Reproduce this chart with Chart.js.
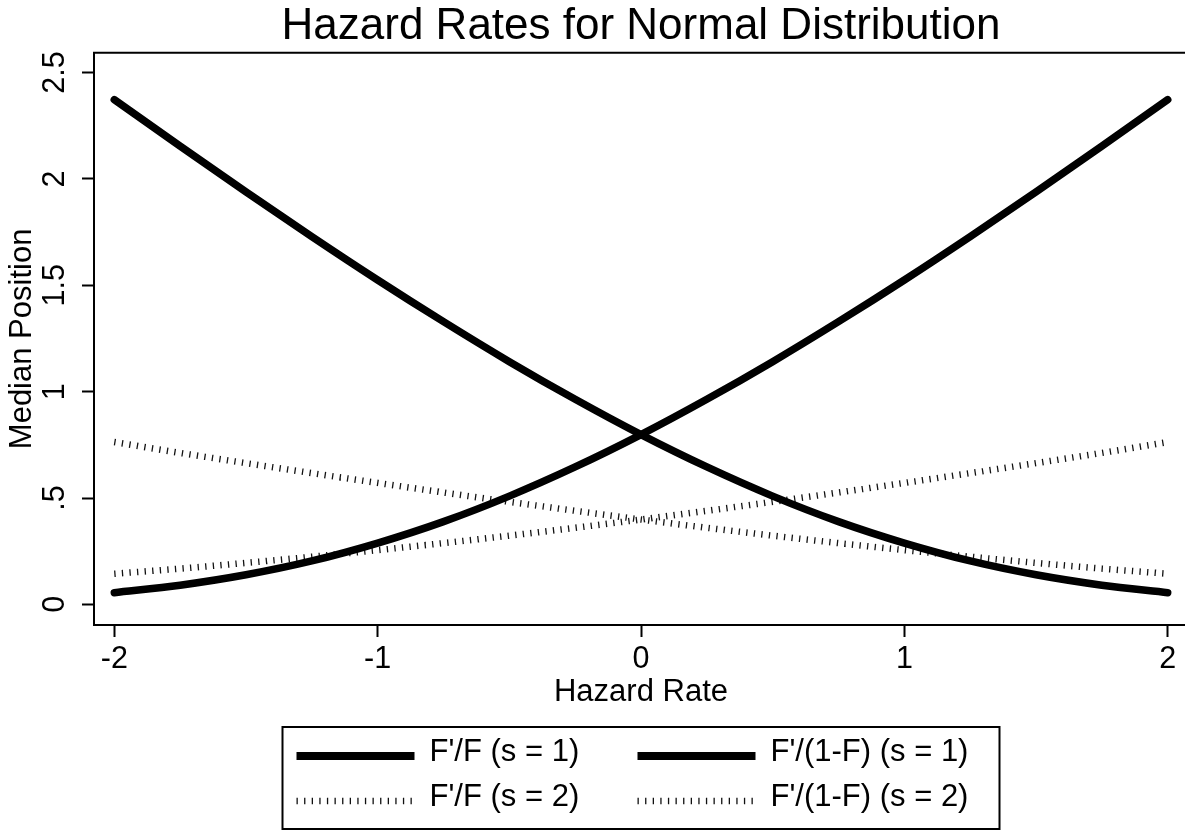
<!DOCTYPE html>
<html>
<head>
<meta charset="utf-8">
<title>Hazard Rates for Normal Distribution</title>
<script src="https://cdn.jsdelivr.net/npm/chart.js@4.4.1/dist/chart.umd.min.js"></script>
<style>
    html, body { margin: 0; padding: 0; background: #fff; overflow: hidden; }
    #wrap { position: relative; width: 1282px; height: 832px; }
</style>
</head>
<body>
<div id="wrap"><canvas id="hazardChart" width="1282" height="832"></canvas></div>
<script>
// values
const hazardRate = [-2, -1.75, -1.5, -1.25, -1, -0.75, -0.5, -0.25, 0, 0.25, 0.5, 0.75, 1, 1.25, 1.5, 1.75, 2];
const ratioS1 = [2.373, 2.154, 1.939, 1.729, 1.525, 1.329, 1.141, 0.964, 0.798, 0.646, 0.509, 0.389, 0.288, 0.204, 0.139, 0.090, 0.055];
const millsS1 = [0.055, 0.090, 0.139, 0.204, 0.288, 0.389, 0.509, 0.646, 0.798, 0.964, 1.141, 1.329, 1.525, 1.729, 1.939, 2.154, 2.373];
const ratioS2 = [0.763, 0.712, 0.664, 0.617, 0.571, 0.526, 0.482, 0.440, 0.399, 0.360, 0.323, 0.288, 0.255, 0.224, 0.195, 0.168, 0.144];
const millsS2 = [0.144, 0.168, 0.195, 0.224, 0.255, 0.288, 0.323, 0.360, 0.399, 0.440, 0.482, 0.526, 0.571, 0.617, 0.664, 0.712, 0.763];

const seriesLabels = ["F'/F (s = 1)", "F'/(1-F) (s = 1)", "F'/F (s = 2)", "F'/(1-F) (s = 2)"];
const xTicks = [-2, -1, 0, 1, 2];
const yTicks = [0, 0.5, 1, 1.5, 2, 2.5];
const yTickLabels = ["0", ".5", "1", "1.5", "2", "2.5"];

const FONT = '"Liberation Sans", Arial, Helvetica, sans-serif';
Chart.defaults.font.family = FONT;
Chart.defaults.color = "#000";

function points(values) {
    return hazardRate.map((x, i) => ({ x: x, y: values[i] }));
}

const solid = { borderColor: "#000", borderWidth: 7.5, borderCapStyle: "round", borderJoinStyle: "round" };
const ticked = { borderColor: "#111", borderWidth: 6.5, borderDash: [1.3, 6.3], borderCapStyle: "butt" };

// top edge of the plot box
const plotFrame = {
    id: "plotFrame",
    afterDraw(chart) {
        const { ctx, chartArea } = chart;
        ctx.save();
        ctx.strokeStyle = "#000";
        ctx.lineWidth = 2;
        ctx.beginPath();
        ctx.moveTo(chartArea.left - 1, chartArea.top);
        ctx.lineTo(chartArea.right, chartArea.top);
        ctx.lineTo(chartArea.right, chartArea.bottom);
        ctx.stroke();
        ctx.restore();
    }
};

// boxed two-column legend under the axis title
const boxedLegend = {
    id: "boxedLegend",
    afterDraw(chart) {
        const { ctx, chartArea } = chart;
        const cx = (chartArea.left + chartArea.right) / 2;
        const left = cx - 358.5;
        const top = chartArea.bottom + 102;
        ctx.save();
        ctx.strokeStyle = "#000";
        ctx.lineWidth = 2;
        ctx.strokeRect(left, top, 717, 102);
        ctx.font = "31px " + FONT;
        ctx.fillStyle = "#000";
        ctx.textBaseline = "middle";
        chart.data.datasets.forEach((ds, i) => {
            const col = i % 2;
            const row = Math.floor(i / 2);
            const x0 = left + (col ? 355 : 14);
            const y = top + (row ? 74 : 29);
            ctx.beginPath();
            ctx.strokeStyle = ds.borderColor;
            ctx.lineWidth = row ? ds.borderWidth : 8;
            ctx.setLineDash(ds.borderDash || []);
            ctx.lineCap = "butt";
            ctx.moveTo(x0, y);
            ctx.lineTo(x0 + 118, y);
            ctx.stroke();
            ctx.setLineDash([]);
            ctx.fillText(ds.label, x0 + 133, y - 4);
        });
        ctx.restore();
    }
};

const chart = new Chart(document.getElementById("hazardChart"), {
    type: "line",
    data: {
        datasets: [
            { label: seriesLabels[0], data: points(ratioS1), ...solid },
            { label: seriesLabels[1], data: points(millsS1), ...solid },
            { label: seriesLabels[2], data: points(ratioS2), ...ticked },
            { label: seriesLabels[3], data: points(millsS2), ...ticked }
        ]
    },
    options: {
        responsive: false,
        animation: false,
        devicePixelRatio: 1,
        layout: { padding: { left: 0, right: 0, top: 0, bottom: 117 } },
        elements: {
            point: { radius: 0, hoverRadius: 0 },
            line: { cubicInterpolationMode: "monotone", fill: false }
        },
        plugins: {
            legend: { display: false },
            tooltip: { enabled: false },
            title: {
                display: true,
                text: "Hazard Rates for Normal Distribution",
                font: { size: 44, weight: "normal", family: FONT },
                color: "#000",
                padding: { top: 0, bottom: 0 }
            }
        },
        scales: {
            x: {
                type: "linear",
                min: -2.077,
                max: 2.077,
                afterBuildTicks: s => { s.ticks = xTicks.map(v => ({ value: v })); },
                afterFit: s => { s.height = 90; },
                ticks: { font: { size: 30.5 }, color: "#000", padding: 4, maxRotation: 0, autoSkip: false },
                grid: { display: true, drawOnChartArea: false, tickLength: 12, tickColor: "#000", tickWidth: 2 },
                border: { display: true, color: "#000", width: 2 },
                title: { display: true, text: "Hazard Rate", font: { size: 31 }, color: "#000", padding: { top: 0, bottom: 4 } }
            },
            y: {
                type: "linear",
                min: -0.097,
                max: 2.593,
                afterBuildTicks: s => { s.ticks = yTicks.map(v => ({ value: v })); },
                afterFit: s => { s.width = 94; },
                ticks: {
                    font: { size: 30.5 },
                    color: "#000",
                    padding: 5,
                    minRotation: 90,
                    maxRotation: 90,
                    crossAlign: "center",
                    autoSkip: false,
                    callback: v => yTickLabels[yTicks.indexOf(v)]
                },
                grid: { display: true, drawOnChartArea: false, tickLength: 12, tickColor: "#000", tickWidth: 2 },
                border: { display: true, color: "#000", width: 2 },
                title: { display: true, text: "Median Position", font: { size: 31 }, color: "#000", padding: { top: 4, bottom: 0 } }
            },
            yRight: {
                type: "linear",
                position: "right",
                display: true,
                afterFit: s => { s.width = 94; },
                ticks: { display: false },
                grid: { display: false },
                border: { display: false }
            }
        }
    },
    plugins: [plotFrame, boxedLegend]
});
</script>
</body>
</html>
